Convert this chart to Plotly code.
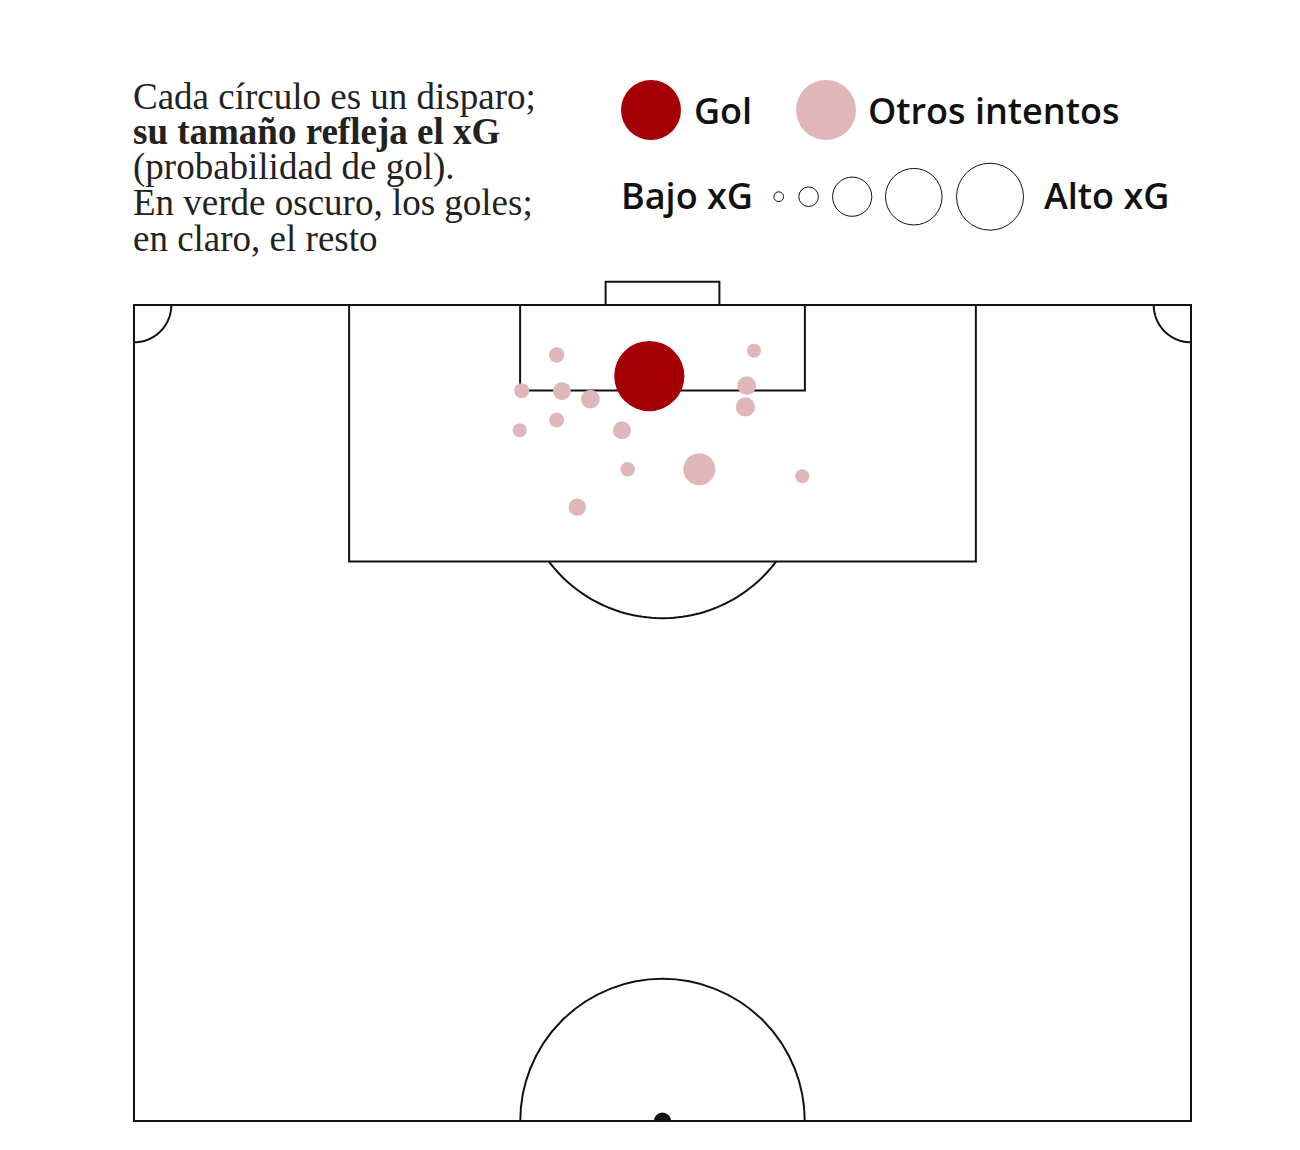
import numpy as np
import plotly.graph_objects as go

W, H = 1300, 1150
OFF = 8  # page margin round the plot

# shots: position on the pitch (metres from left touchline / from goal line) and xG
shot_x = [33.15, 27.19, 39.89, 24.94, 27.53, 29.36, 39.42, 39.33, 27.19, 24.81, 31.39, 31.76, 36.37, 42.99, 28.52]
shot_y = [4.57, 3.22, 2.94, 5.51, 5.53, 6.05, 5.19, 6.56, 7.40, 8.06, 8.06, 10.57, 10.57, 11.02, 13.00]
shot_xg = [0.77, 0.037, 0.031, 0.035, 0.051, 0.055, 0.055, 0.058, 0.035, 0.031, 0.051, 0.033, 0.16, 0.031, 0.047]
shot_goal = [True] + [False] * 14

# size legend
legend_xg = [0.015, 0.06, 0.24, 0.5, 0.7]

RED = "#a50006"
PINK = "#e0b7b8"
LINE = "#111111"


def xg_size(v):
    return 80 * np.sqrt(np.asarray(v))


# pitch geometry (half pitch, metres)
PW, PL = 68.0, 52.5
px_per_m = 1057 / PW
x0_px, y0_px = 134.0 - OFF, 305.0 - OFF  # pixel of (0, 0)
xr = [-1.0, PW + 1.0]
yr = [PL + 0.06, -2.5]
xdom = [(x0_px + xr[0] * px_per_m) / W, (x0_px + xr[1] * px_per_m) / W]
ydom = [1 - (y0_px + yr[0] * px_per_m) / H, 1 - (y0_px + yr[1] * px_per_m) / H]

fig = go.Figure()

gx = [x for x, g in zip(shot_x, shot_goal) if not g]
gy = [y for y, g in zip(shot_y, shot_goal) if not g]
gs = [s for s, g in zip(shot_xg, shot_goal) if not g]
fig.add_trace(go.Scatter(x=gx, y=gy, mode="markers",
                         marker=dict(size=xg_size(gs), color=PINK, opacity=1, line=dict(width=0)),
                         hoverinfo="skip"))
gx = [x for x, g in zip(shot_x, shot_goal) if g]
gy = [y for y, g in zip(shot_y, shot_goal) if g]
gs = [s for s, g in zip(shot_xg, shot_goal) if g]
fig.add_trace(go.Scatter(x=gx, y=gy, mode="markers",
                         marker=dict(size=xg_size(gs), color=RED, opacity=1, line=dict(width=0)),
                         hoverinfo="skip"))

# legend keys on a pixel-space helper axis
fig.add_trace(go.Scatter(x=[651 - OFF, 826 - OFF], y=[110 - OFF] * 2, mode="markers", xaxis="x2", yaxis="y2",
                         marker=dict(size=60, color=[RED, PINK], opacity=1, line=dict(width=0)),
                         hoverinfo="skip", cliponaxis=False))
fig.add_trace(go.Scatter(x=[v - OFF for v in [778.7, 808.6, 852.2, 913.8, 990]], y=[196.7 - OFF] * 5,
                         mode="markers", xaxis="x2", yaxis="y2",
                         marker=dict(size=xg_size(legend_xg), color="white", opacity=1,
                                     line=dict(width=1, color=LINE)),
                         hoverinfo="skip", cliponaxis=False))

line = dict(color=LINE, width=2)
shapes = []


def rect(a, b, c, d):
    shapes.append(dict(type="rect", x0=a, x1=b, y0=c, y1=d, line=line, layer="below"))


def arc(cx, cy, r, t0, t1, n=60):
    t = np.linspace(t0, t1, n)
    pts = [f"{cx + r * np.cos(a):.3f},{cy + r * np.sin(a):.3f}" for a in t]
    shapes.append(dict(type="path", path="M" + " L".join(pts), line=line, layer="below"))


rect(0, PW, 0, PL)
rect(PW / 2 - 20.16, PW / 2 + 20.16, 0, 16.5)
rect(PW / 2 - 9.16, PW / 2 + 9.16, 0, 5.5)
rect(PW / 2 - 3.66, PW / 2 + 3.66, -1.5, 0)
# penalty arc
a = np.arccos((16.5 - 11) / 9.15)
arc(PW / 2, 11, 9.15, np.pi / 2 - a, np.pi / 2 + a)
# corner arcs
arc(0, 0, 2.4, 0, np.pi / 2)
arc(PW, 0, 2.4, np.pi / 2, np.pi)
# centre circle and spot
shapes.append(dict(type="circle", x0=PW / 2 - 9.15, x1=PW / 2 + 9.15, y0=PL - 9.15, y1=PL + 9.15,
                   line=line, layer="below"))
shapes.append(dict(type="circle", x0=PW / 2 - 0.55, x1=PW / 2 + 0.55, y0=PL - 0.55, y1=PL + 0.55,
                   line=dict(width=0), fillcolor=LINE, layer="below"))

annotations = []
serif = "Liberation Serif"
lines = [
    ("Cada círculo es un disparo;", 400),
    ("su tamaño refleja el xG", 700),
    ("(probabilidad de gol).", 400),
    ("En verde oscuro, los goles;", 400),
    ("en claro, el resto", 400),
]
for i, (t, w) in enumerate(lines):
    base = 108 + i * 35.6
    annotations.append(dict(text=t, x=(133 - OFF - 2) / W, y=1 - (base - 12 - OFF) / H, xref="paper", yref="paper",
                            xanchor="left", yanchor="middle", showarrow=False,
                            font=dict(family=serif, size=37, color="#222222", weight=w)))

sans = dict(family="Open Sans", size=36, color="#111111", weight=600)
for t, x, y in [("Gol", 695, 110), ("Otros intentos", 869, 110), ("Bajo xG", 622, 196), ("Alto xG", 1045, 196)]:
    annotations.append(dict(text=t, x=(x - OFF - 3) / W, y=1 - (y - OFF) / H, xref="paper", yref="paper",
                            xanchor="left", yanchor="middle", showarrow=False, font=sans))

fig.update_layout(
    width=W, height=H, autosize=False,
    margin=dict(l=0, r=0, t=0, b=0, pad=0),
    paper_bgcolor="white", plot_bgcolor="rgba(0,0,0,0)",
    showlegend=False,
    xaxis=dict(domain=xdom, range=xr, visible=False, fixedrange=True),
    yaxis=dict(domain=ydom, range=yr, visible=False, fixedrange=True),
    xaxis2=dict(domain=[0, 1], range=[0, W], visible=False, anchor="y2", fixedrange=True),
    yaxis2=dict(domain=[0, 1], range=[H, 0], visible=False, anchor="x2", fixedrange=True),
    shapes=shapes,
    annotations=annotations,
)

fig.write_html("out.html")
